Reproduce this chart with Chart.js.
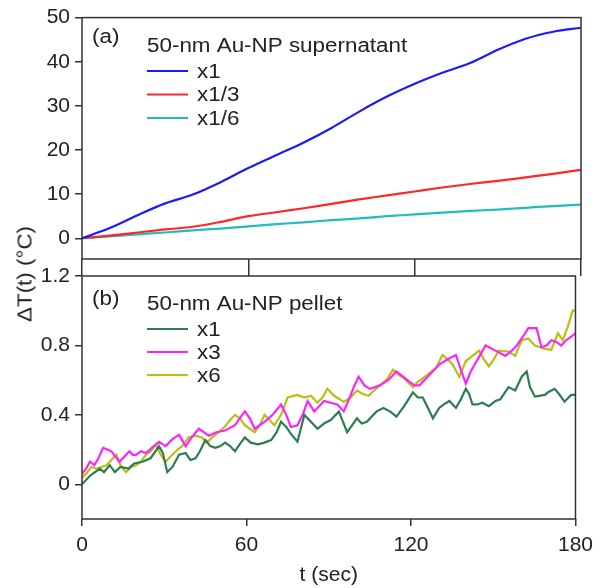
<!DOCTYPE html>
<html>
<head>
<meta charset="utf-8">
<script src="https://cdn.jsdelivr.net/npm/chart.js@4"></script>
<style>
  html, body { margin: 0; padding: 0; background: #fff; }
  #wrap { position: relative; width: 600px; height: 588px; }
  #wrap canvas { position: absolute; left: 0; top: 0; }
  #ylab { position: absolute; left: 25px; top: 274px; white-space: nowrap;
          transform: translate(-50%, -50%) rotate(-90deg) scaleX(1.12);
          font: 20px "Liberation Sans", Arial, sans-serif; color: #222; }
</style>
</head>
<body>
<div id="wrap">
  <canvas id="top" width="600" height="588"></canvas>
  <canvas id="bot" width="600" height="588"></canvas>
  <div id="ylab">ΔT(t) (°C)</div>
</div>
<script>
// ---- data ----
// (a) supernatant, sampled every 10 s
const supT   = [0, 10, 20, 30, 40, 50, 60, 70, 80, 90, 100, 110, 120, 130, 140, 150, 160, 170, 180];
const supX1  = [0, 2.3, 5.2, 7.9, 9.9, 12.7, 15.9, 18.8, 21.7, 25.0, 28.7, 32.1, 35.0, 37.5, 39.7, 42.7, 45.2, 46.8, 47.7];
const supX13 = [0, 0.6, 1.3, 2.0, 2.6, 3.7, 5.0, 5.9, 6.8, 7.8, 8.8, 9.7, 10.6, 11.5, 12.3, 13.0, 13.8, 14.6, 15.5];
const supX16 = [0, 0.4, 0.9, 1.3, 1.8, 2.2, 2.7, 3.2, 3.6, 4.1, 4.5, 5.0, 5.4, 5.8, 6.2, 6.5, 6.9, 7.3, 7.6];

// (b) pellet, [t, dT] pairs
const pelX1 = [[0,0],[3,0.05],[6.5,0.09],[8,0.07],[10.1,0.11],[12,0.07],[14,0.10],[17,0.09],[19,0.12],[22.1,0.13],
  [25,0.15],[28.1,0.22],[29.5,0.18],[31.1,0.07],[33,0.10],[35.4,0.17],[37.8,0.18],[39.5,0.14],[41.4,0.15],[43,0.19],
  [45,0.255],[46.8,0.22],[48.6,0.21],[50.5,0.22],[52.2,0.24],[54,0.22],[55.8,0.19],[57.5,0.23],[59.4,0.27],[61.5,0.24],
  [64.2,0.23],[66.5,0.24],[69,0.255],[71,0.30],[72.6,0.36],[74.5,0.33],[76.2,0.29],[78.6,0.245],[81.1,0.40],[83.5,0.36],
  [85.9,0.32],[88.3,0.35],[90.7,0.37],[93.7,0.42],[95.2,0.36],[96.7,0.30],[98.5,0.34],[100.3,0.38],[102,0.35],[103.9,0.36],
  [105.7,0.39],[107.5,0.42],[109.9,0.44],[112.3,0.42],[114.7,0.39],[117.5,0.45],[120.7,0.53],[122.5,0.50],[124.3,0.50],[126.2,0.44],
  [128,0.38],[130.3,0.44],[132,0.46],[134,0.48],[136.4,0.44],[138.2,0.49],[140,0.55],[141.2,0.52],[142.4,0.46],[144.2,0.46],
  [146,0.47],[148.4,0.45],[150.8,0.48],[152.6,0.49],[155.6,0.56],[158,0.54],[160.4,0.62],[162.2,0.65],[163.4,0.56],[165.2,0.505],
  [168.8,0.515],[170,0.53],[172.4,0.55],[174,0.52],[176,0.476],[178.4,0.515],[180,0.515]];
const pelX3 = [[0,0.06],[1.5,0.09],[2.9,0.13],[4.5,0.11],[6,0.15],[7.7,0.21],[9.2,0.20],[10.7,0.19],[12.2,0.16],[13.7,0.13],
  [15.5,0.16],[17.3,0.19],[18.5,0.17],[19.7,0.17],[21.5,0.19],[23.3,0.18],[25.5,0.21],[28.1,0.245],[30.5,0.22],[33,0.26],
  [35.4,0.285],[37.8,0.22],[40,0.27],[42.6,0.32],[44.4,0.30],[46.2,0.28],[49,0.30],[52.2,0.31],[55.8,0.34],[57.5,0.38],
  [59.4,0.42],[61.2,0.38],[63,0.32],[64.8,0.34],[66.6,0.36],[69.5,0.40],[72.6,0.46],[74.5,0.40],[76.2,0.33],[78.6,0.34],
  [80.5,0.40],[82.3,0.48],[84.7,0.42],[86.5,0.45],[88.3,0.48],[90.7,0.47],[93.1,0.46],[95.5,0.42],[97.9,0.51],[99.4,0.57],
  [100.9,0.62],[103,0.57],[105.1,0.55],[106.9,0.56],[108.7,0.57],[111.7,0.60],[114.7,0.65],[117.1,0.62],[119.5,0.59],[121.3,0.57],
  [123.1,0.57],[126.7,0.63],[128.5,0.66],[130.3,0.69],[133.4,0.72],[136.4,0.745],[138.2,0.66],[140,0.58],[141.8,0.65],[143.6,0.70],
  [145.4,0.75],[147.2,0.80],[150.8,0.77],[154.4,0.74],[156.8,0.77],[158.6,0.80],[160.4,0.84],[162.8,0.90],[165.8,0.90],[167.6,0.79],
  [169.4,0.80],[171.2,0.83],[173,0.82],[174.8,0.80],[176.6,0.83],[178.4,0.85],[180,0.87]];
const pelX6 = [[0,0.04],[1.5,0.06],[3.4,0.10],[5.3,0.09],[7.1,0.10],[8.9,0.11],[10.7,0.14],[12.5,0.17],[14.3,0.10],[16.1,0.07],
  [17.9,0.10],[19.7,0.11],[21.5,0.13],[23.3,0.17],[25.1,0.19],[26.9,0.23],[28.7,0.17],[30.5,0.13],[32.3,0.16],[34.2,0.19],
  [36.5,0.22],[38.9,0.27],[41.3,0.28],[43.8,0.27],[45.5,0.24],[47.5,0.27],[49.8,0.30],[52,0.33],[54,0.37],[55.8,0.40],
  [57.6,0.38],[59.4,0.34],[61.2,0.32],[63,0.30],[64.8,0.34],[66.6,0.40],[68.4,0.37],[70.2,0.34],[72.6,0.40],[75,0.50],
  [78.6,0.515],[81,0.50],[83.5,0.51],[85.9,0.47],[87.7,0.50],[89.5,0.55],[92,0.51],[95.5,0.475],[98,0.50],[100.3,0.54],
  [102.5,0.52],[104.5,0.51],[106.5,0.54],[108.7,0.57],[111,0.60],[113.5,0.66],[115.5,0.63],[117.5,0.61],[120.7,0.56],[122.5,0.59],
  [124.3,0.61],[126.7,0.64],[129.1,0.67],[131.5,0.745],[133.4,0.72],[135.2,0.69],[137.6,0.62],[140,0.71],[142.4,0.74],[144.8,0.77],
  [146.6,0.72],[148.4,0.68],[150.2,0.72],[152,0.77],[155.6,0.765],[158,0.74],[160.4,0.83],[162.8,0.84],[165.2,0.80],[168.8,0.78],
  [171.2,0.775],[173.6,0.87],[175.4,0.83],[177.2,0.91],[179,1.0],[180,1.0]];

const xTicks = [0, 60, 120, 180];

// ---- styling ----
const INK = '#222', FRAME = '#333';
const FONT = '"Liberation Sans", Arial, sans-serif';
Chart.defaults.font.family = FONT;
Chart.defaults.color = INK;

function pts(xs, ys) { return xs.map(function (x, i) { return { x: x, y: ys[i] }; }); }
function pairs(a) { return a.map(function (p) { return { x: p[0], y: p[1] }; }); }

function wide(ctx, text, x, y) {
  ctx.save(); ctx.translate(x, y); ctx.scale(1.12, 1); ctx.fillText(text, 0, 0); ctx.restore();
}

// frame + in-panel legend
const panelText = {
  id: 'panelText',
  afterDraw: function (chart, args, o) {
    var ctx = chart.ctx, a = chart.chartArea;
    ctx.save();
    ctx.strokeStyle = FRAME; ctx.lineWidth = 1.5;
    ctx.strokeRect(a.left, a.top, a.right - a.left, a.bottom - a.top);
    ctx.fillStyle = INK;
    ctx.font = '20px ' + FONT;
    ctx.textBaseline = 'alphabetic';
    wide(ctx, o.tag, 92, o.tagY);
    wide(ctx, o.title, 147, o.titleY);
    chart.data.datasets.forEach(function (ds, i) {
      var y = o.rowY[i];
      ctx.strokeStyle = ds.borderColor; ctx.lineWidth = 2.2;
      ctx.beginPath(); ctx.moveTo(147, y); ctx.lineTo(188, y); ctx.stroke();
      ctx.textBaseline = 'middle';
      wide(ctx, ds.label, 197, y + 1);
    });
    ctx.restore();
  }
};

function tickGrid(len) {
  return { drawOnChartArea: false, drawTicks: true, tickLength: len, color: FRAME, lineWidth: 1.5 };
}
function xScale(showLabels, tickLen, height) {
  return {
    type: 'linear', min: 0, max: 180,
    afterBuildTicks: function (s) { s.ticks = xTicks.map(function (v) { return { value: v }; }); },
    ticks: { display: showLabels, padding: 7, font: { size: 21 }, color: INK, maxRotation: 0 },
    grid: tickGrid(tickLen), border: { display: false },
    title: { display: showLabels, text: 't (sec)', font: { size: 21 }, color: INK, padding: { top: 0, bottom: 0 } },
    afterFit: function (s) { s.height = height; }
  };
}
function yScale(min, max, step) {
  return {
    min: min, max: max,
    ticks: { stepSize: step, includeBounds: false, padding: 5, font: { size: 21 }, color: INK },
    grid: tickGrid(7), border: { display: false },
    afterFit: function (s) { s.width = 82; }
  };
}
function line(label, data, color, smooth) {
  return { label: label, data: data, borderColor: color, borderWidth: 2.2, pointRadius: 0,
           tension: smooth ? 0.3 : 0, cubicInterpolationMode: smooth ? 'monotone' : 'default' };
}

new Chart(document.getElementById('top'), {
  type: 'line',
  data: { datasets: [
    line('x1',   pts(supT, supX1),  '#1a1aff', true),
    line('x1/3', pts(supT, supX13), '#ff2626', true),
    line('x1/6', pts(supT, supX16), '#22bcbc', true)
  ] },
  options: {
    responsive: false, animation: false,
    layout: { padding: { left: 0, top: 16, right: 19, bottom: 0 } },
    scales: { x: xScale(false, 17, 329), y: yScale(-4.7, 50, 10) },
    plugins: { legend: { display: false }, tooltip: { enabled: false },
      panelText: { tag: '(a)', tagY: 43, title: '50-nm Au-NP supernatant', titleY: 52, rowY: [71, 94.5, 118] } }
  },
  plugins: [panelText]
});

new Chart(document.getElementById('bot'), {
  type: 'line',
  data: { datasets: [
    line('x1', pairs(pelX1), '#2e7d50', false),
    line('x3', pairs(pelX3), '#ff22ff', false),
    line('x6', pairs(pelX6), '#bdbd12', false)
  ] },
  options: {
    responsive: false, animation: false,
    layout: { padding: { left: 0, top: 276, right: 19, bottom: 0 } },
    scales: { x: xScale(true, 7, 69), y: yScale(-0.2, 1.2, 0.4) },
    plugins: { legend: { display: false }, tooltip: { enabled: false },
      panelText: { tag: '(b)', tagY: 305, title: '50-nm Au-NP pellet', titleY: 310, rowY: [329, 352, 375] } }
  },
  plugins: [panelText]
});
</script>
</body>
</html>
